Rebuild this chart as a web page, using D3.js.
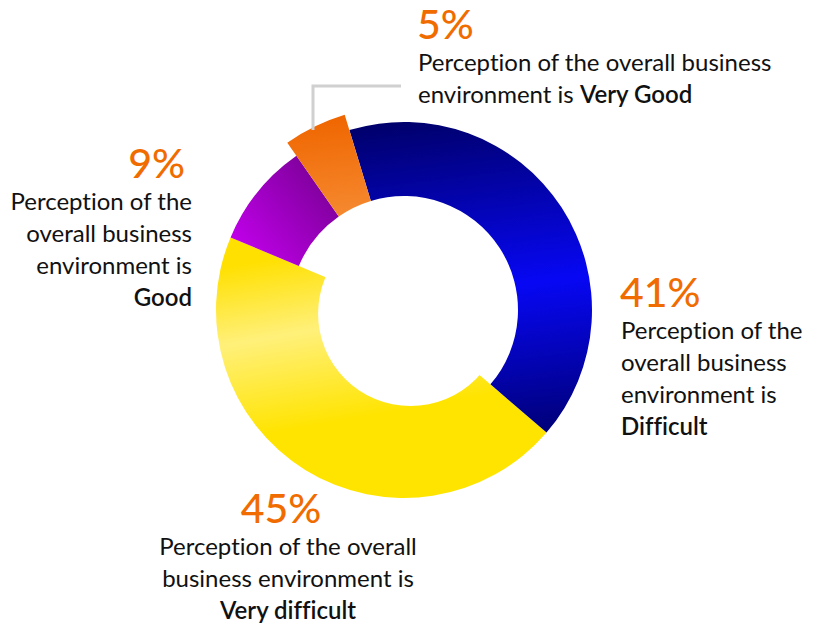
<!DOCTYPE html>
<html>
<head>
<meta charset="utf-8">
<script src="https://cdn.jsdelivr.net/npm/d3@7"></script>
<style>
  html, body { margin: 0; padding: 0; background: #ffffff; }
  svg text { font-family: Lato, "Noto Sans", sans-serif; font-variant-ligatures: none; font-feature-settings: "liga" 0; }
</style>
</head>
<body>
<svg id="chart" width="821" height="628"></svg>
<script>
// Survey shares, in pie order starting at the top and running clockwise
const categories = ["Difficult", "Very difficult", "Good", "Very Good"];
const values = [41, 45, 9, 5];
const percentLabels = ["41%", "45%", "9%", "5%"];
const leadLines = [
  ["Perception of the", "overall business", "environment is"],
  ["Perception of the overall", "business environment is"],
  ["Perception of the", "overall business", "environment is"],
  ["Perception of the overall business", "environment is"]
];
const boldWords = ["Difficult", "Very difficult", "Good", "Very Good"];

const width = 821, height = 628;
const cx = 404, cy = 310;
const outerR = 188, innerR = 114;

const svg = d3.select("#chart");
const defs = svg.append("defs");

function linGrad(id, x1, y1, x2, y2, stops) {
  const g = defs.append("linearGradient").attr("id", id)
    .attr("gradientUnits", "userSpaceOnUse")
    .attr("x1", x1).attr("y1", y1).attr("x2", x2).attr("y2", y2);
  stops.forEach(([o, c]) => g.append("stop").attr("offset", o).attr("stop-color", c));
}
linGrad("g-difficult", 0, -190, 40, 130, [[0, "#00006b"], [0.55, "#0707f4"], [1, "#00007c"]]);
linGrad("g-verydifficult", 0, -75, 30, 95, [[0, "#ffe000"], [0.45, "#fff07a"], [1, "#ffe400"]]);
linGrad("g-good", -60, -140, -165, -55, [[0, "#72008c"], [1, "#c200ec"]]);
linGrad("g-verygood", 0, -200, 10, -95, [[0, "#ef6600"], [1, "#f68b32"]]);
const fills = ["url(#g-difficult)", "url(#g-verydifficult)", "url(#g-good)", "url(#g-verygood)"];

const a0 = -16.9 * Math.PI / 180;
const pie = d3.pie().sort(null).value(d => d).startAngle(a0).endAngle(a0 + 2 * Math.PI);
const slices = pie(values);

const g = svg.append("g").attr("transform", `translate(${cx},${cy})`);

// connector from the small slice to its note
svg.append("path")
  .attr("d", d3.line()([[313, 130], [313, 86], [401, 86]]))
  .attr("fill", "none").attr("stroke", "#d0d0d0").attr("stroke-width", 3);

// the "Very difficult" wedge runs to the centre and is cut by an off-centre hole
const arcWedge = d3.arc().innerRadius(0).outerRadius(outerR);
g.append("path").attr("d", arcWedge(slices[1])).attr("fill", fills[1]);
g.append("circle").attr("cx", 6.6).attr("cy", 3.5).attr("r", 92.5).attr("fill", "#ffffff");

// remaining ring segments; the smallest one sits proud of the ring
const arcRing = d3.arc().innerRadius(innerR).outerRadius(outerR);
const arcProud = d3.arc().innerRadius(innerR).outerRadius(204);
[0, 2, 3].forEach(i => {
  g.append("path")
    .attr("d", (i === 3 ? arcProud : arcRing)(slices[i]))
    .attr("fill", fills[i]);
});

// annotations
const notes = [
  { x: 621, y: 307, anchor: "start", px: 620 },
  { x: 288, y: 523, anchor: "middle", px: 281 },
  { x: 192, y: 178, anchor: "end", px: 185 },
  { x: 418, y: 39, anchor: "start", px: 417 }
];
const lineH = 32;
notes.forEach((n, i) => {
  svg.append("text")
    .attr("x", n.px).attr("y", n.y)
    .attr("text-anchor", n.anchor)
    .attr("fill", "#f06c00")
    .attr("font-size", 41).attr("font-weight", 500)
    .text(percentLabels[i]);
  const lines = leadLines[i];
  lines.forEach((t, k) => {
    const txt = svg.append("text")
      .attr("x", n.x).attr("y", n.y + 32 + k * lineH)
      .attr("text-anchor", n.anchor)
      .attr("fill", "#111111")
      .attr("font-size", 24);
    if (i === 3 && k === lines.length - 1) {
      txt.append("tspan").text(t + " ");
      txt.append("tspan").attr("font-weight", 600).text(boldWords[i]);
    } else {
      txt.text(t);
    }
  });
  if (i !== 3) {
    svg.append("text")
      .attr("x", n.x).attr("y", n.y + 32 + lines.length * lineH)
      .attr("text-anchor", n.anchor)
      .attr("fill", "#111111")
      .attr("font-size", 24).attr("font-weight", 600)
      .text(boldWords[i]);
  }
});
</script>
</body>
</html>
